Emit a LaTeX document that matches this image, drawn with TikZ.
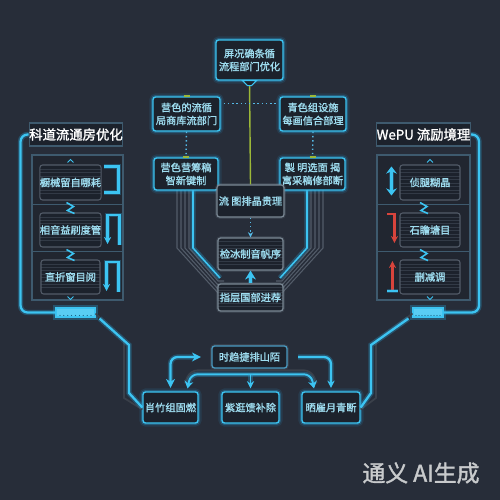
\documentclass[tikz,border=0pt]{standalone}
\usepackage{fontspec}
\newfontfamily\cjk{Noto Sans CJK SC}[AutoFakeBold=1.5]
\usetikzlibrary{calc,arrows.meta}
\definecolor{bgc}{HTML}{272D39}
\definecolor{boxc}{HTML}{1C222C}
\definecolor{cyanc}{HTML}{3CC4F2}
\definecolor{glowc}{HTML}{2AA8E0}
\definecolor{txtc}{HTML}{9EDDF0}
\definecolor{dimc}{HTML}{7A8894}
\definecolor{panelc}{HTML}{3E5A6E}
\definecolor{stripec}{HTML}{323A46}
\definecolor{bundlec}{HTML}{535C69}
\definecolor{greenc}{HTML}{9CB838}
\definecolor{redc}{HTML}{D8443C}
\definecolor{markc}{HTML}{C8CACC}
\tikzset{
 sz/.style 2 args={minimum width=#1*0.2mm, minimum height=#2*0.2mm, inner sep=0pt},
 boxtxt/.style={text=txtc, font=\cjk\bfseries\fontsize{5.8}{7.4}\selectfont, align=center},
 glowbox/.style={boxtxt, draw=cyanc, line width=0.8pt, fill=boxc, rounded corners=1.5,
   preaction={draw=glowc, line width=4pt, opacity=0.12},
   preaction={draw=glowc, line width=2.2pt, opacity=0.3}},
 dimbox/.style={boxtxt, draw=dimc, line width=0.7pt, fill=boxc, rounded corners=1.5,
   preaction={draw=dimc, line width=2pt, opacity=0.2}},
 striped/.style={path picture={\foreach \k in {0.12,0.22,...,0.92}
   \draw[stripec, line width=0.5pt] ($(path picture bounding box.north west)!\k!(path picture bounding box.south west)$) -- ($(path picture bounding box.north east)!\k!(path picture bounding box.south east)$);}},
 innerbox/.style={boxtxt, draw=bundlec, line width=0.6pt, fill=boxc, rounded corners=1.5, striped},
 titlebox/.style={draw=panelc, line width=0.8pt, fill=boxc, text=white, font=\cjk\bfseries\fontsize{7.6}{8}\selectfont},
 panel/.style={draw=panelc, line width=0.8pt, fill=bgc!85!black},
 cyanline/.style={draw=cyanc, line width=1.3pt, preaction={draw=glowc, line width=3pt, opacity=0.3}},
 darkline/.style={draw=bundlec!70!black, line width=1pt},
 bundle/.style={draw=bundlec, line width=0.6pt},
 dotline/.style={draw=glowc!80!white, line width=0.8pt, dash pattern=on 0.8pt off 1.6pt},
 bracket/.style={draw=cyanc, line width=1.3pt, preaction={draw=glowc, line width=2.6pt, opacity=0.3}},
 redbr/.style={draw=redc, line width=1.3pt},
 zig/.style={draw=cyanc, line width=0.9pt},
 bar/.style={draw=cyanc, line width=0.6pt, fill=cyanc!85!white, sz={#1}{9},
   preaction={draw=glowc, line width=3pt, opacity=0.3},
   path picture={\foreach \k in {0.1,0.2,...,0.9}
     \fill[glowc!60!black] ($(path picture bounding box.south west)!\k!(path picture bounding box.south east)+(0,-1.5)$) circle (0.35pt);}},
 tip/.style={-{Stealth[length=4pt,width=4pt]}},
}
\begin{document}
\begin{tikzpicture}[x=0.2mm,y=-0.2mm]
\fill[bgc] (0,0) rectangle (500,500);
\useasboundingbox (0,0) rectangle (500,500);

% ---------- center column bundles (behind boxes) ----------
\foreach \i in {0,1,2,3} {
  \draw[bundle] (177+4*\i,186) -- (177+4*\i,248) -- (218,293-4*\i) -- (224,293-4*\i);
  \draw[bundle] (323-4*\i,186) -- (323-4*\i,248) -- (282,293-4*\i) -- (276,293-4*\i);
}
\draw[cyanline, line width=0.9pt] (193,186) -- (193,248) -- (220,278);
\draw[cyanline, line width=0.9pt] (307,186) -- (307,248) -- (280,278);

% ---------- center column boxes ----------
\node[glowbox, sz={67}{40}] (top) at (249.5,60) {屏况确条循\\流程部门优化};
\node[glowbox, sz={67}{34}] (lmid) at (186.5,114) {营色的流循\\局商库流部门};
\node[glowbox, sz={66}{34}] (rmid) at (313,114) {青色组设施\\每画信合部理};
\node[glowbox, sz={64}{32}] (lrow) at (186,174) {营色营筹稿\\智新键制};
\node[glowbox, sz={65}{32}] (rrow) at (312.5,174) {製\ 明选面\ 揭\\寓采稿修部断};
\node[dimbox, sz={67}{32}] (cen) at (250.5,201) {流\ 图排晶贵理};
\node[dimbox, striped, sz={65}{32}] (mid2) at (250.5,254) {检冰制音帆序};
\node[dimbox, striped, sz={65}{27}] (bot) at (250.5,297.5) {指层国部进荐};

% green link and dotted links
\draw[greenc, line width=0.8pt] (top.south) -- (cen.north);
\fill[boxc, draw=cyanc, line width=0.6pt] ($(top.south)+(-7,0)$) -- ($(top.south)+(7,0)$) -- ($(top.south)+(2,5)$) -- ($(top.south)+(-2,5)$) -- cycle;
\draw[dotline] ($(lmid.north east)+(3,7)$) -- ($(rmid.north west)+(-3,7)$);
\draw[dotline] (lmid.south) -- (lrow.north);
\draw[dotline] (rmid.south) -- (rrow.north);
\draw[dotline, -{Stealth[length=3pt,width=3pt]}] (cen.south) -- (mid2.north);
\draw[cyanline, -{Stealth[length=5pt,width=6pt]}] (bot.north) -- (mid2.south);
\foreach \n in {lmid,rmid,lrow,rrow} \draw[greenc, line width=1pt] ($(\n.north)+(-3,0)$) -- ($(\n.north)+(3,0)$);

% ---------- left panel ----------
\node[titlebox, sz={92}{23}] (ltitle) at (76,134.5) {科道流通房优化};
\node[panel, sz={91}{145}] (lpanel) at (77.5,227.5) {};
\draw[panelc, line width=0.8pt] ($(lpanel.north west)+(0,50)$) -- ($(lpanel.north east)+(0,50)$);
\draw[panelc, line width=0.8pt] ($(lpanel.north west)+(0,97)$) -- ($(lpanel.north east)+(0,97)$);
\node[innerbox, sz={59}{35}] (l1) at (70.5,182.5) {橱械留自哪耗};
\node[innerbox, sz={59}{34}] (l2) at (70.5,230) {相音益刷度管};
\node[innerbox, sz={59}{34}] (l3) at (70.5,277) {直折窗目阅};
\draw[bracket] ($(l1.east)+(2,-16)$) -- ($(l1.east)+(17,-16)$) -- ($(l1.east)+(17,10)$) -- ($(l1.east)+(2,10)$);
\draw[bracket, tip] ($(l2.east)+(18,15)$) -- ($(l2.east)+(18,-15)$) -- ($(l2.east)+(6,-15)$) -- ($(l2.east)+(6,14)$);
\draw[bracket, tip] ($(l3.east)+(18,15)$) -- ($(l3.east)+(18,-15)$) -- ($(l3.east)+(6,-15)$) -- ($(l3.east)+(6,14)$);
\draw[zig] ($(l1.south)+(-4,2)$) -- ($(l1.south)+(3,6)$) -- ($(l1.south)+(-3,10)$) -- ($(l1.south)+(4,13)$);
\draw[zig] ($(l2.south)+(-4,2)$) -- ($(l2.south)+(3,6)$) -- ($(l2.south)+(-3,10)$) -- ($(l2.south)+(4,13)$);
\draw[zig, line width=0.5pt] ($(l1.north)+(-3,-2)$) -- ($(l1.north)+(0,-5)$) -- ($(l1.north)+(3,-2)$);
\draw[zig, line width=0.5pt] ($(l3.south)+(-3,2)$) -- ($(l3.south)+(0,5)$) -- ($(l3.south)+(3,2)$);
\node[bar={39}] (lbar) at (75.5,312.5) {};
\draw[cyanline, rounded corners=4] (ltitle.west) -- ++(-8,0) |- (lbar.west);

% ---------- right panel ----------
\node[titlebox, sz={93}{23}] (rtitle) at (423.5,134.5) {WePU 流励境理};
\node[panel, sz={93}{145}] (rpanel) at (423.5,227.5) {};
\draw[panelc, line width=0.8pt] ($(rpanel.north west)+(0,50)$) -- ($(rpanel.north east)+(0,50)$);
\draw[panelc, line width=0.8pt] ($(rpanel.north west)+(0,97)$) -- ($(rpanel.north east)+(0,97)$);
\node[innerbox, sz={60}{35}] (r1) at (430,182.5) {侦腿糊晶};
\node[innerbox, sz={60}{34}] (r2) at (430,230) {石瞻塘目};
\node[innerbox, sz={60}{34}] (r3) at (430,277) {删减调};
\draw[bracket, {Stealth[length=4pt,width=6pt]}-{Stealth[length=4pt,width=6pt]}] ($(r1.west)+(-8,-16)$) -- ($(r1.west)+(-8,13)$);
\draw[redbr, tip] ($(r2.west)+(-12,-16)$) -- ($(r2.west)+(-5,-16)$) -- ($(r2.west)+(-5,13)$);
\draw[redbr, tip] ($(r3.west)+(-7,14)$) -- ($(r3.west)+(-7,-16)$);
\draw[bracket, line width=1pt] ($(r3.west)+(-12,14)$) -- ($(r3.west)+(-1,14)$);
\draw[zig] ($(r1.south)+(-10,2)$) -- ($(r1.south)+(-3,6)$) -- ($(r1.south)+(-9,10)$) -- ($(r1.south)+(-2,13)$);
\draw[zig] ($(r2.south)+(-10,2)$) -- ($(r2.south)+(-3,6)$) -- ($(r2.south)+(-9,10)$) -- ($(r2.south)+(-2,13)$);
\draw[zig, line width=0.5pt] ($(r1.north)+(-3,-2)$) -- ($(r1.north)+(0,-5)$) -- ($(r1.north)+(3,-2)$);
\draw[zig, line width=0.5pt] ($(r3.south)+(-3,2)$) -- ($(r3.south)+(0,5)$) -- ($(r3.south)+(3,2)$);
\node[bar={30}] (rbar) at (428,312.5) {};
\draw[cyanline, rounded corners=4] (rtitle.east) -- ++(8,0) |- (rbar.east);

% ---------- bottom group ----------
\node[dimbox, draw=glowc!60!dimc, sz={75}{22}] (btop) at (249.5,357) {时趋捷排山陌};
\node[glowbox, sz={55}{31}] (bl) at (170.5,407.5) {肖竹组固燃};
\node[glowbox, sz={57}{31}] (bmid) at (250.5,407.5) {紫逛馈补除};
\node[glowbox, sz={58}{31}] (br) at (331,407.5) {晒雇月青断};

% side feeds into bottom boxes
\draw[darkline] ($(lbar.south east)+(0,-4)$) -- (124,341) -- (124,398) -- ($(bl.west)+(0,2)$);
\draw[cyanline] ($(lbar.south east)+(4,1)$) -- (129,345) -- (129,393) -- (bl.west);
\draw[darkline] ($(rbar.south west)+(0,-4)$) -- (376,341) -- (376,398) -- ($(br.east)+(0,2)$);
\draw[cyanline] ($(rbar.south west)+(-4,1)$) -- (371,345) -- (371,393) -- (br.east);

% arrows around the bottom group
\draw[cyanline, {Stealth[length=5pt,width=5pt]}-{Stealth[length=5pt,width=5pt]}, rounded corners=4, shorten >=6pt, shorten <=2pt] (bl.north) |- (btop.west);
\draw[cyanline, tip, rounded corners=4, shorten <=6pt, shorten >=2pt] (btop.east) -| (br.north);
\draw[darkline, rounded corners=4] ($(bl.north)+(14,-8)$) -- ($(bl.north)+(20,-21)$) -- ($(br.north)+(-20,-21)$) -- ($(br.north)+(-14,-8)$);
\draw[cyanline, line width=1.1pt, {Stealth[length=4pt,width=5pt]}-{Stealth[length=4pt,width=5pt]}, rounded corners=4] ($(bl.north)+(17,-3)$) -- ($(bl.north)+(20,-17)$) -- ($(br.north)+(-20,-17)$) -- ($(br.north)+(-17,-3)$);
\draw[cyanline, line width=1pt, tip] ($(bmid.north)+(0,-17)$) -- ($(bmid.north)+(0,-3)$);

% watermark
\node[text=markc, font=\cjk\bfseries\fontsize{13}{14}\selectfont, anchor=center] (mark) at (421,473) {通义 AI生成};
\end{tikzpicture}
\end{document}
